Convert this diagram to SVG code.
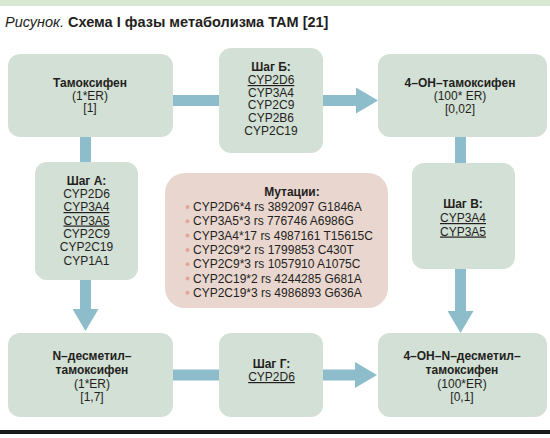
<svg xmlns="http://www.w3.org/2000/svg" width="550" height="438" viewBox="0 0 550 438">
<defs>
<style>
.box{fill:#d3e0d5;}
.mut{fill:#e9d6cf;}
.t{font-family:"Liberation Sans",Arial,sans-serif;font-size:12px;fill:#231f20;text-anchor:middle;}
.b{font-weight:bold;}
.u{text-decoration:underline;}
.m{font-family:"Liberation Sans",Arial,sans-serif;font-size:12px;fill:#231f20;}
.bul{fill:#e3a595;}
.c{stroke:#8dbdcb;stroke-width:11;fill:none;}
</style>
<marker id="ah" markerUnits="userSpaceOnUse" markerWidth="22" markerHeight="26" viewBox="0 0 22 26" refX="0" refY="13" orient="auto">
<path d="M0,0 L22,13 L0,26 Z" fill="#8dbdcb"/>
</marker>
</defs>
<rect x="0" y="0" width="550" height="6" fill="#d9e8d2"/>
<text x="5" y="27" font-family="'Liberation Sans',Arial,sans-serif" font-size="14.5" fill="#231f20"><tspan font-style="italic">Рисунок.</tspan><tspan font-weight="bold"> Схема I фазы метаболизма ТАМ [21]</tspan></text>

<g id="connectors">
<line class="c" x1="173" y1="100.5" x2="219" y2="100.5"/>
<line class="c" x1="323" y1="100.5" x2="356" y2="100.5" marker-end="url(#ah)"/>
<line class="c" x1="85.5" y1="137" x2="85.5" y2="163"/>
<line class="c" x1="85.5" y1="280" x2="85.5" y2="309" marker-end="url(#ah)"/>
<line class="c" x1="460.5" y1="137" x2="460.5" y2="163"/>
<line class="c" x1="460.5" y1="269" x2="460.5" y2="311" marker-end="url(#ah)"/>
<line class="c" x1="173" y1="375" x2="219" y2="375"/>
<line class="c" x1="323" y1="375" x2="355" y2="375" marker-end="url(#ah)"/>
</g>

<g id="tamoxifen">
<rect class="box" x="8" y="54" width="165" height="83" rx="12"/>
<text class="t b" x="90" y="87">Тамоксифен</text>
<text class="t" x="90" y="99.5">(1*ER)</text>
<text class="t" x="90" y="112">[1]</text>
</g>

<g id="stepB">
<rect class="box" x="219" y="48" width="104" height="105" rx="12"/>
<text class="t b" x="271" y="71">Шаг Б:</text>
<text class="t u" x="271" y="84">CYP2D6</text>
<text class="t" x="271" y="96.5">CYP3A4</text>
<text class="t" x="271" y="109">CYP2C9</text>
<text class="t" x="271" y="122">CYP2B6</text>
<text class="t" x="271" y="134.5">CYP2C19</text>
</g>

<g id="oh-tamoxifen">
<rect class="box" x="378" y="54" width="169" height="83" rx="12"/>
<text class="t b" x="460" y="87">4–OH–тамоксифен</text>
<text class="t" x="460" y="100">(100* ER)</text>
<text class="t" x="460" y="113">[0,02]</text>
</g>

<g id="stepA">
<rect class="box" x="35" y="162" width="103" height="118" rx="12"/>
<text class="t b" x="86.5" y="184.5">Шаг А:</text>
<text class="t" x="86.5" y="198">CYP2D6</text>
<text class="t u" x="86.5" y="211">CYP3A4</text>
<text class="t u" x="86.5" y="224.5">CYP3A5</text>
<text class="t" x="86.5" y="238">CYP2C9</text>
<text class="t" x="86.5" y="251">CYP2C19</text>
<text class="t" x="86.5" y="264.5">CYP1A1</text>
</g>

<g id="mutations">
<rect class="mut" x="165" y="173" width="223" height="135" rx="20"/>
<text class="t b" x="292" y="196">Мутации:</text>
<g class="bul">
<circle cx="187.5" cy="207" r="2"/>
<circle cx="187.5" cy="221.3" r="2"/>
<circle cx="187.5" cy="235.6" r="2"/>
<circle cx="187.5" cy="249.9" r="2"/>
<circle cx="187.5" cy="264.2" r="2"/>
<circle cx="187.5" cy="278.5" r="2"/>
<circle cx="187.5" cy="292.8" r="2"/>
</g>
<text class="m" x="193" y="211">CYP2D6*4 rs 3892097 G1846A</text>
<text class="m" x="193" y="225.3">CYP3A5*3 rs 776746 A6986G</text>
<text class="m" x="193" y="239.6">CYP3A4*17 rs 4987161 T15615C</text>
<text class="m" x="193" y="253.9">CYP2C9*2 rs 1799853 C430T</text>
<text class="m" x="193" y="268.2">CYP2C9*3 rs 1057910 A1075C</text>
<text class="m" x="193" y="282.5">CYP2C19*2 rs 4244285 G681A</text>
<text class="m" x="193" y="296.8">CYP2C19*3 rs 4986893 G636A</text>
</g>

<g id="stepV">
<rect class="box" x="412" y="163" width="103" height="106" rx="12"/>
<text class="t b" x="463" y="208">Шаг В:</text>
<text class="t u" x="463" y="222">CYP3A4</text>
<text class="t u" x="463" y="235.5">CYP3A5</text>
</g>

<g id="n-desmethyl">
<rect class="box" x="8" y="333" width="165" height="84" rx="12"/>
<text class="t b" x="92" y="360">N–десметил–</text>
<text class="t b" x="92" y="374">тамоксифен</text>
<text class="t" x="92" y="388">(1*ER)</text>
<text class="t" x="92" y="401">[1,7]</text>
</g>

<g id="stepG">
<rect class="box" x="219" y="333" width="104" height="84" rx="12"/>
<text class="t b" x="271.5" y="368">Шаг Г:</text>
<text class="t u" x="271.5" y="381">CYP2D6</text>
</g>

<g id="oh-n-desmethyl">
<rect class="box" x="378" y="333" width="169" height="84" rx="12"/>
<text class="t b" x="462" y="360">4–OH–N–десметил–</text>
<text class="t b" x="462" y="374">тамоксифен</text>
<text class="t" x="462" y="388">(100*ER)</text>
<text class="t" x="462" y="401">[0,1]</text>
</g>

<rect x="0" y="430" width="550" height="4" fill="#1a1a1a"/>
</svg>
